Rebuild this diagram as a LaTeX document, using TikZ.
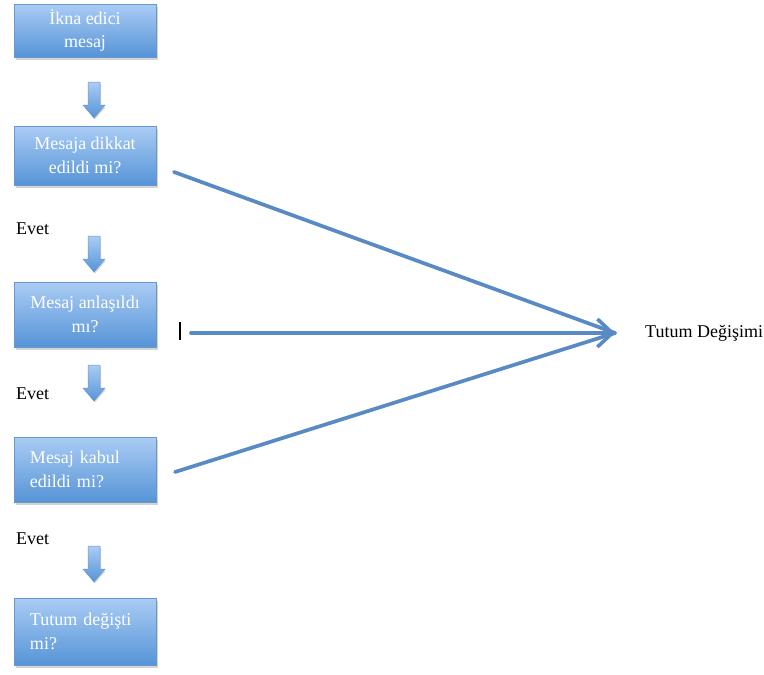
\documentclass[tikz,border=0pt]{standalone}
\usepackage{fontspec}
\setmainfont{Liberation Serif}
\usetikzlibrary{arrows.meta,shadows}
\definecolor{boxtop}{RGB}{170,204,244}
\definecolor{boxbot}{RGB}{86,148,215}
\definecolor{boxline}{RGB}{104,152,208}
\definecolor{linec}{RGB}{88,138,198}
\tikzset{
  stage/.style={rectangle, draw=boxline, line width=0.8pt, top color=boxtop, bottom color=boxbot,
    minimum width=142pt, minimum height=60pt, text=white, font=\fontsize{18}{23.5}\selectfont,
    inner sep=0pt, drop shadow={opacity=0.35, shadow xshift=1.5pt, shadow yshift=-2.5pt}},
  centered/.style={align=center},
  lefted/.style={align=left, text width=110pt},
  plain/.style={font=\fontsize{18}{21}\selectfont, inner sep=0pt},
  flow/.style={draw=linec, line width=3.6pt, line cap=round},
  flowshadow/.style={draw=black, opacity=0.16, line width=3.6pt, line cap=round},
  blockarrow/.style={top color=boxtop, bottom color=boxbot, draw=boxline, line width=0.5pt,
    drop shadow={opacity=0.3, shadow xshift=1pt, shadow yshift=-1.5pt}}
}
\newcommand{\blockarr}[2]{%
  \path[blockarrow] (#1-6,#2) -- (#1+6,#2) -- (#1+6,#2+23) -- (#1+11,#2+23) -- (#1,#2+36)
    -- (#1-11,#2+23) -- (#1-6,#2+23) -- cycle;}
\begin{document}
\begin{tikzpicture}[x=1pt,y=-1pt]
\useasboundingbox (0,0) rectangle (764,675);
% boxes
\node[stage, centered, minimum height=53pt] (b1) at (85,30.5) {İkna edici\\mesaj};
\node[stage, centered, minimum height=59pt] (b2) at (85,155.5) {Mesaja dikkat\\edildi mi?};
\node[stage, centered, minimum height=65pt] (b3) at (85,314.5) {Mesaj anlaşıldı\\mı?};
\node[stage, lefted, minimum height=65pt] (b4) at (85,469.5) {Mesaj kabul\\edildi mi?};
\node[stage, lefted, minimum height=67pt] (b5) at (85,631.5) {Tutum değişti\\mi?};
% block arrows
\blockarr{94}{82}
\blockarr{94}{236}
\blockarr{94}{365}
\blockarr{94}{546}
% labels
\node[plain, anchor=west] (e1) at (16,229) {Evet};
\node[plain, anchor=west] (e2) at (16,394) {Evet};
\node[plain, anchor=west] (e3) at (16,539) {Evet};
\node[plain, anchor=west] (t) at (645,333) {Tutum Değişimi};
% connectors
\coordinate (tip) at (615,333);
\coordinate (s1) at (174,172);
\coordinate (s2) at (191,333);
\coordinate (s3) at (175,472);
\begin{scope}[shift={(1.5,2.5)}]
\draw[flowshadow] (s1) -- (tip);
\draw[flowshadow] (s2) -- (tip);
\draw[flowshadow] (s3) -- (tip);
\end{scope}
\draw[flow] (s1) -- (tip);
\draw[flow] (s3) -- (tip);
\draw[flow, -{Straight Barb[length=15pt,width=28pt,line width=3.6pt]}] (s2) -- (tip);
% text cursor
\draw[line width=1.3pt] (180,322) -- (180,340);
\end{tikzpicture}
\end{document}
